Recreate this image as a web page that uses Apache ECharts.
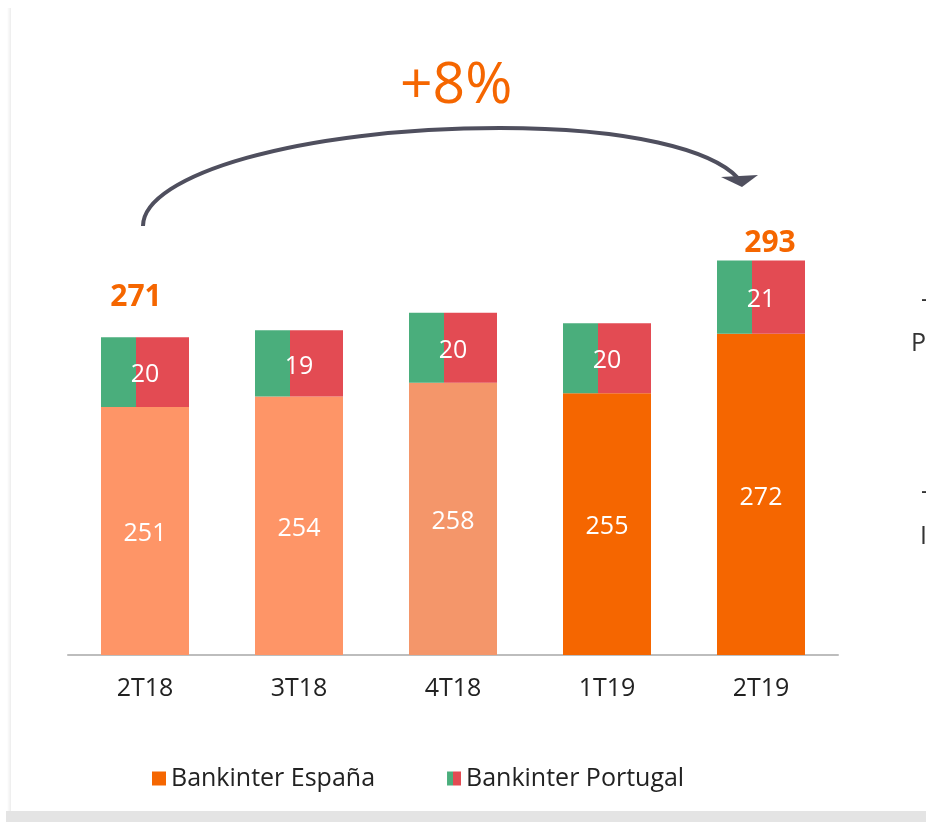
<!DOCTYPE html>
<html>
<head>
<meta charset="utf-8">
<script src="https://cdn.jsdelivr.net/npm/echarts@6/dist/echarts.min.js"></script>
<style>
  body { margin: 0; background: #fff; }
  #page { position: relative; width: 926px; height: 822px; overflow: hidden; background: #fff; }
  #band { position: absolute; left: 6px; top: 811px; width: 920px; height: 11px; background: #e4e4e4; }
  #edge { position: absolute; left: 7px; top: 8px; width: 4px; height: 803px;
          background: linear-gradient(to right, rgba(0,0,0,0), rgba(0,0,0,0.07)); }
  #chart { position: absolute; left: 0; top: 0; width: 926px; height: 822px; }
</style>
</head>
<body>
<div id="page">
  <div id="band"></div>
  <div id="edge"></div>
  <div id="chart"></div>
</div>
<script>
// datos
var categories = ['2T18', '3T18', '4T18', '1T19', '2T19'];
var espana = [251, 254, 258, 255, 272];
var portugal = [20, 19, 20, 20, 21];
var totals = [271, 273, 278, 275, 293];
var showTotal = [true, false, false, false, true];
var espanaColors = ['#fe9567', '#fe9567', '#f4966a', '#f56600', '#f56600'];

var FONT = '"Open Sans", "DejaVu Sans", sans-serif';
var ORANGE = '#f56600';

// verde/rojo partido en vertical
var ptColor = new echarts.graphic.LinearGradient(0, 0, 1, 0, [
  { offset: 0, color: '#4aae7c' },
  { offset: 0.4, color: '#4aae7c' },
  { offset: 0.4, color: '#e34b53' },
  { offset: 1, color: '#e34b53' }
]);

var totalOffsets = [[-9, -25], [0, 0], [0, 0], [0, 0], [9, -2]];

var chart = echarts.init(document.getElementById('chart'));

var option = {
  animation: false,
  textStyle: { fontFamily: FONT },
  grid: { left: 68, right: 88, top: 236, bottom: 167 },
  xAxis: {
    type: 'category',
    data: categories,
    axisLine: { lineStyle: { color: '#bdbdbd', width: 2 } },
    axisTick: { show: false },
    axisLabel: { color: '#222', fontSize: 25, margin: 21, fontFamily: FONT }
  },
  yAxis: {
    type: 'value',
    min: 180,
    max: 300,
    show: false
  },
  legend: {
    left: 147,
    top: 761,
    itemWidth: 14,
    itemHeight: 14,
    itemGap: 72,
    icon: 'rect',
    textStyle: { color: '#222', fontSize: 25, fontFamily: FONT },
    data: ['Bankinter España', 'Bankinter Portugal']
  },
  series: [
    {
      name: 'Bankinter España',
      type: 'bar',
      stack: 'total',
      barWidth: 88,
      itemStyle: { color: ORANGE },
      label: {
        show: true,
        position: 'inside',
        offset: [0, 3],
        color: '#fff',
        fontSize: 25,
        fontFamily: FONT
      },
      data: espana.map(function (v, i) {
        return { value: v, itemStyle: { color: espanaColors[i] } };
      })
    },
    {
      name: 'Bankinter Portugal',
      type: 'bar',
      stack: 'total',
      barWidth: 88,
      itemStyle: { color: ptColor },
      label: {
        show: true,
        position: 'inside',
        offset: [0, 3],
        color: '#fff',
        fontSize: 25,
        fontFamily: FONT
      },
      data: portugal
    },
    {
      name: 'total',
      type: 'scatter',
      symbolSize: 0,
      silent: true,
      itemStyle: { opacity: 1 },
      data: totals.map(function (v, i) {
        return {
          value: v,
          label: {
            show: showTotal[i],
            position: 'top',
            distance: 0,
            offset: totalOffsets[i]
          }
        };
      }),
      label: {
        color: ORANGE,
        fontSize: 30,
        fontWeight: 'bold',
        fontFamily: FONT
      }
    }
  ],
  graphic: [
    {
      type: 'bezierCurve',
      shape: { x1: 143, y1: 226, cpx1: 143, cpy1: 175, cpx2: 300, cpy2: 128, x2: 500, y2: 128 },
      style: { stroke: '#4f4f5e', lineWidth: 4, fill: null }
    },
    {
      type: 'bezierCurve',
      shape: { x1: 500, y1: 128, cpx1: 630, cpy1: 128, cpx2: 712, cpy2: 150, x2: 738, y2: 178 },
      style: { stroke: '#4f4f5e', lineWidth: 4, fill: null }
    },
    {
      type: 'polygon',
      shape: { points: [[721, 177], [758, 175], [742, 187]] },
      style: { fill: '#4f4f5e' }
    },
    {
      type: 'text',
      left: 400,
      top: 58,
      style: { text: '+8%', fill: ORANGE, font: '57px ' + FONT }
    },
    {
      type: 'text',
      left: 921,
      top: 287,
      style: { text: '-', fill: '#333', font: '25px ' + FONT }
    },
    {
      type: 'text',
      left: 911,
      top: 331,
      style: { text: 'P', fill: '#333', font: '25px ' + FONT }
    },
    {
      type: 'text',
      left: 921,
      top: 479,
      style: { text: '-', fill: '#333', font: '25px ' + FONT }
    },
    {
      type: 'text',
      left: 920,
      top: 524,
      style: { text: 'I', fill: '#333', font: '25px ' + FONT }
    }
  ]
};

chart.setOption(option);
window.onresize = chart.resize;
</script>
</body>
</html>
